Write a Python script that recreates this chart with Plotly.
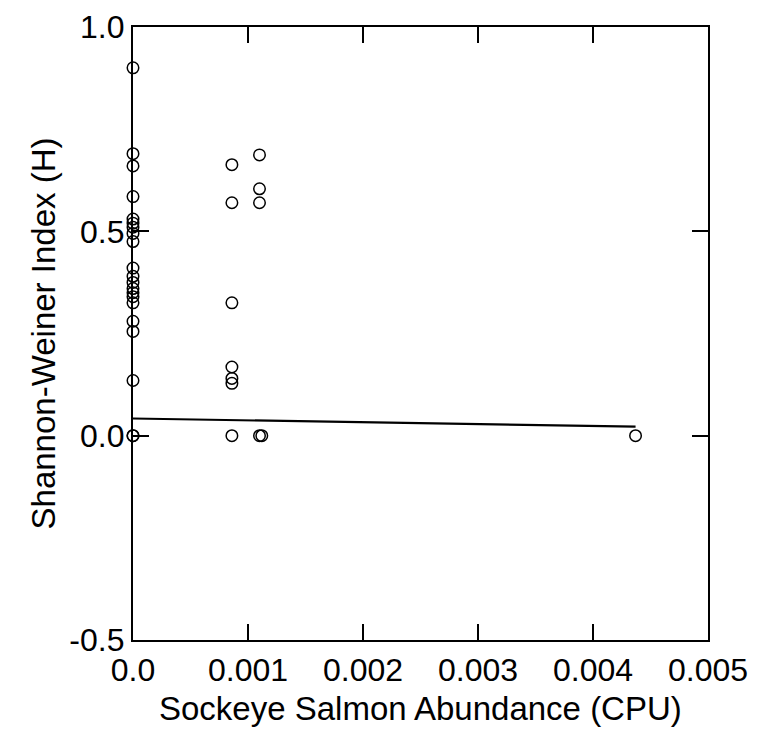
import plotly.graph_objects as go

# Observations: sockeye abundance (CPU) vs Shannon-Weiner index
abundance = [0.0] * 21 + [0.00086] * 7 + [0.0011] * 4 + [0.00112, 0.00437]
shannon = [0.90, 0.69, 0.66, 0.585, 0.53, 0.52, 0.51, 0.495, 0.475, 0.41, 0.39,
           0.375, 0.36, 0.35, 0.34, 0.325, 0.28, 0.255, 0.135, 0.0, 0.0,
           0.663, 0.57, 0.325, 0.168, 0.14, 0.128, 0.0,
           0.687, 0.604, 0.57, 0.0,
           0.0, 0.0]

# Regression line endpoints
reg_x = [0.0, 0.00437]
reg_y = [0.042, 0.022]

x_tickvals = [0.0, 0.001, 0.002, 0.003, 0.004, 0.005]
x_ticktext = ["0.0", "0.001", "0.002", "0.003", "0.004", "0.005"]
y_tickvals = [-0.5, 0.0, 0.5, 1.0]
y_ticktext = ["-0.5", "0.0", "0.5", "1.0"]

fig = go.Figure()
fig.add_trace(go.Scatter(x=reg_x, y=reg_y, mode="lines",
                         line=dict(color="black", width=2.2), showlegend=False))
fig.add_trace(go.Scatter(x=abundance, y=shannon, mode="markers",
                         marker=dict(symbol="circle-open", size=11.5,
                                     color="black", line=dict(width=1.5)),
                         showlegend=False, cliponaxis=False))

font = "Liberation Sans, Arial, sans-serif"
axis_common = dict(showline=True, linecolor="black", linewidth=2.2, mirror="ticks",
                   ticks="inside", ticklen=16, tickwidth=2.2, tickcolor="black",
                   showgrid=False, zeroline=False, ticklabeloverflow="allow",
                   tickfont=dict(family=font, size=32, color="black"))

fig.update_xaxes(range=[0, 0.005], tickvals=x_tickvals, ticktext=x_ticktext,
                 **axis_common)
fig.update_yaxes(range=[-0.5, 1.0], tickvals=y_tickvals, ticktext=y_ticktext,
                 title=dict(text="Shannon-Weiner Index (H)",
                            font=dict(family=font, size=33, color="black"),
                            standoff=4),
                 **axis_common)

fig.add_annotation(text="Sockeye Salmon Abundance (CPU)", xref="paper", yref="paper",
                   x=0.5, y=-0.111, xanchor="center", yanchor="middle",
                   showarrow=False, font=dict(family=font, size=33, color="black"))

fig.update_layout(width=754, height=732,
                  margin=dict(l=125, r=54, t=19, b=100, autoexpand=False),
                  paper_bgcolor="white", plot_bgcolor="white")

fig.write_html("out.html")
